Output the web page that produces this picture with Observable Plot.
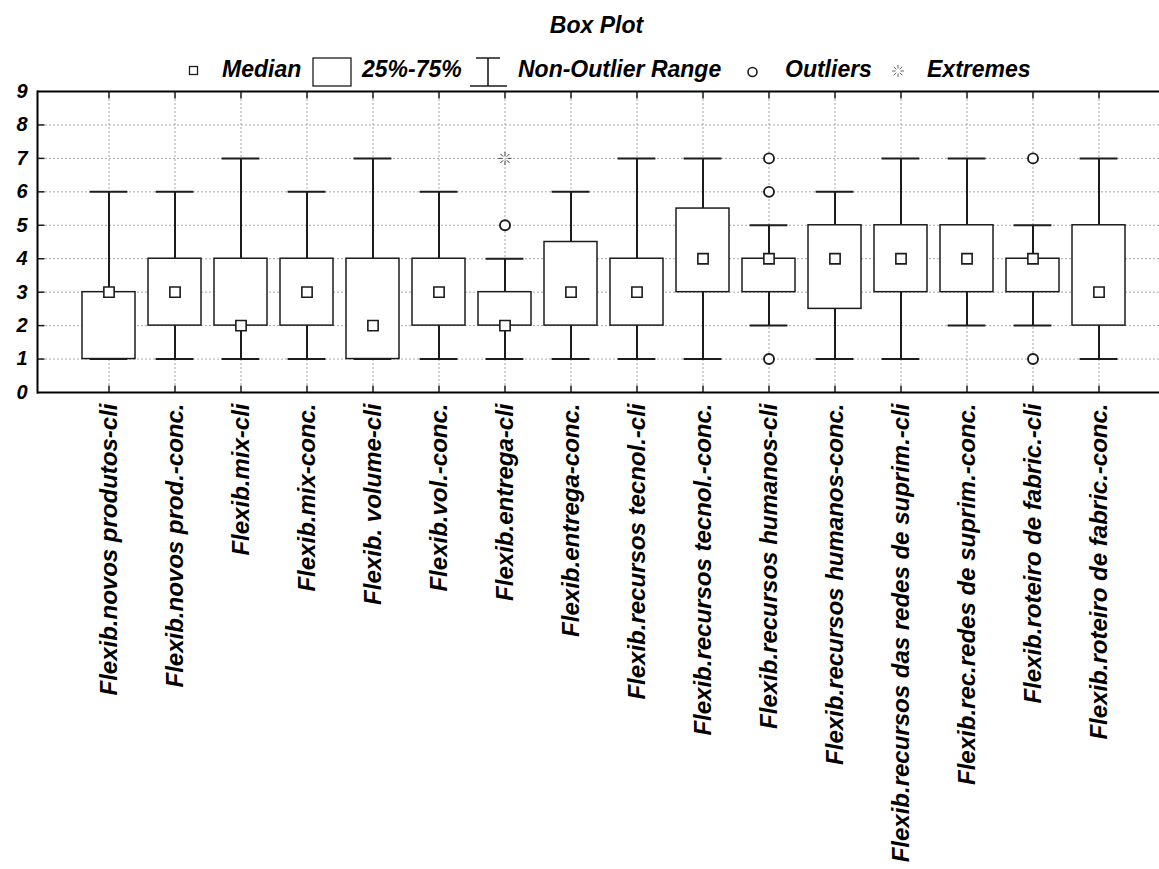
<!DOCTYPE html>
<html>
<head>
<meta charset="utf-8">
<script src="https://cdn.jsdelivr.net/npm/d3@7"></script>
<script src="https://cdn.jsdelivr.net/npm/@observablehq/plot@0.6"></script>
<style>
  html, body { margin: 0; padding: 0; background: #fff; overflow: hidden; }
  #chart { width: 1159px; }
  #chart svg { display: block; }
</style>
</head>
<body>
<div id="chart"></div>
<script>
// Variables shown on the x axis
const categories = [
  "Flexib.novos produtos-cli",
  "Flexib.novos prod.-conc.",
  "Flexib.mix-cli",
  "Flexib.mix-conc.",
  "Flexib. volume-cli",
  "Flexib.vol.-conc.",
  "Flexib.entrega-cli",
  "Flexib.entrega-conc.",
  "Flexib.recursos tecnol.-cli",
  "Flexib.recursos tecnol.-conc.",
  "Flexib.recursos humanos-cli",
  "Flexib.recursos humanos-conc.",
  "Flexib.recursos das redes de suprim.-cli",
  "Flexib.rec.redes de suprim.-conc.",
  "Flexib.roteiro de fabric.-cli",
  "Flexib.roteiro de fabric.-conc."
];

// Box statistics per variable
const whiskerLow  = [1, 1, 1, 1, 1, 1, 1, 1,   1, 1,   2, 1,   1, 2, 2, 1];
const quartile1   = [1, 2, 2, 2, 1, 2, 2, 2,   2, 3,   3, 2.5, 3, 3, 3, 2];
const medians     = [3, 3, 2, 3, 2, 3, 2, 3,   3, 4,   4, 4,   4, 4, 4, 3];
const quartile3   = [3, 4, 4, 4, 4, 4, 3, 4.5, 4, 5.5, 4, 5,   5, 5, 4, 5];
const whiskerHigh = [6, 6, 7, 6, 7, 6, 4, 6,   7, 7,   5, 6,   7, 7, 5, 7];

// Outliers and extremes (index into categories, value)
const outlierIndex  = [6, 10, 10, 10, 14, 14];
const outlierValues = [5, 7, 6, 1, 7, 1];
const extremeIndex  = [6];
const extremeValues = [7];

// Axis ticks
const yTickValues = [0, 1, 2, 3, 4, 5, 6, 7, 8, 9];
const yGridValues = [1, 2, 3, 4, 5, 6, 7, 8];

// Title and legend text
const titleText = "Box Plot";
const legendLabels = ["Median", "25%-75%", "Non-Outlier Range", "Outliers", "Extremes"];

const FONT = '"Liberation Sans", Arial, Helvetica, sans-serif';
const INK = "#1c1c1c";
const HEADER_H = 88;

const rows = categories.map((c, i) => ({
  cat: c, lo: whiskerLow[i], q1: quartile1[i], med: medians[i], q3: quartile3[i], hi: whiskerHigh[i]
}));
const outliers = outlierIndex.map((k, i) => ({cat: categories[k], v: outlierValues[i]}));
const extremes = extremeIndex.map((k, i) => ({cat: categories[k], v: extremeValues[i]}));

// Small custom symbols: inward tick marks and the starburst used for extremes
const tickRight = {draw(ctx) { ctx.moveTo(0, 0); ctx.lineTo(7, 0); }};
const tickUp    = {draw(ctx) { ctx.moveTo(0, 0); ctx.lineTo(0, -7); }};
const tickDown  = {draw(ctx) { ctx.moveTo(0, 0); ctx.lineTo(0, 7); }};
const starburst = {draw(ctx) {
  for (let k = 0; k < 8; ++k) {
    const a = k * Math.PI / 4;
    ctx.moveTo(Math.cos(a) * 2.6, Math.sin(a) * 2.6);
    ctx.lineTo(Math.cos(a) * 6.4, Math.sin(a) * 6.4);
  }
}};

// ---- Header: title and legend ----
const header = d3.create("svg")
  .attr("width", 1159)
  .attr("height", HEADER_H)
  .style("font-family", FONT)
  .style("font-weight", "bold")
  .style("font-style", "italic");

header.append("text")
  .attr("x", 596.5).attr("y", 33)
  .attr("text-anchor", "middle")
  .attr("font-size", 23)
  .text(titleText);

const lg = header.append("g").attr("fill", "none").attr("stroke", INK);
// median square
lg.append("rect").attr("x", 189.5).attr("y", 66.5).attr("width", 8).attr("height", 8).attr("stroke-width", 1.3).attr("fill", "white");
// 25%-75% box
lg.append("rect").attr("x", 313).attr("y", 58).attr("width", 38).attr("height", 28).attr("stroke-width", 1.3).attr("fill", "white");
// whisker icon
lg.append("path").attr("d", "M476,58H500M488,58V86M470,86H507").attr("stroke-width", 1.6);
// outlier circle
lg.append("circle").attr("cx", 752.5).attr("cy", 72).attr("r", 4.5).attr("stroke-width", 1.6);
// extreme starburst
lg.append("path").attr("d", d3.range(8).map(k => {
  const a = k * Math.PI / 4, cx = 898, cy = 71;
  return `M${cx + Math.cos(a) * 2.4},${cy + Math.sin(a) * 2.4}L${cx + Math.cos(a) * 6},${cy + Math.sin(a) * 6}`;
}).join("")).attr("stroke-width", 0.9).attr("stroke", "#555");

const legendX = [222, 362, 518, 785, 927];
header.append("g")
  .attr("font-size", 23)
  .selectAll("text")
  .data(legendLabels)
  .join("text")
  .attr("x", (d, i) => legendX[i])
  .attr("y", 77)
  .text(d => d);

document.getElementById("chart").append(header.node());

// ---- Box plot ----
const chart = Plot.plot({
  width: 1159,
  height: 869 - HEADER_H,
  marginTop: 91 - HEADER_H,
  marginBottom: 869 - 392,
  marginLeft: 37,
  marginRight: 0,
  style: {fontFamily: FONT, fontWeight: "bold", fontStyle: "italic", color: "#000", background: "white", overflow: "visible"},
  x: {type: "band", domain: categories, range: [37, 1169], paddingInner: 0.204, paddingOuter: 0.602, axis: null},
  y: {domain: [0, 9], axis: null},
  marks: [
    Plot.gridY(yGridValues, {stroke: "#a8a8a8", strokeOpacity: 1, strokeDasharray: "2,2"}),
    Plot.gridX(categories, {stroke: "#a8a8a8", strokeOpacity: 1, strokeDasharray: "2,2"}),
    // whiskers and caps
    Plot.ruleX(rows, {x: "cat", y1: "lo", y2: "hi", stroke: INK, strokeWidth: 2}),
    Plot.tickY(rows, {x: "cat", y: "lo", insetLeft: 7.6, insetRight: 7.6, stroke: INK, strokeWidth: 2}),
    Plot.tickY(rows, {x: "cat", y: "hi", insetLeft: 7.6, insetRight: 7.6, stroke: INK, strokeWidth: 2}),
    // interquartile boxes
    Plot.barY(rows, {x: "cat", y1: "q1", y2: "q3", fill: "white", stroke: INK, strokeWidth: 1.5}),
    // medians
    Plot.dot(rows, {x: "cat", y: "med", symbol: "square", r: 5.8, fill: "white", stroke: INK, strokeWidth: 1.6}),
    // outliers and extremes
    Plot.dot(outliers, {x: "cat", y: "v", r: 5, fill: "white", stroke: INK, strokeWidth: 1.9}),
    Plot.dot(extremes, {x: "cat", y: "v", symbol: starburst, r: 5, fill: "none", stroke: "#444", strokeWidth: 1}),
    // frame
    Plot.frame({anchor: "left", stroke: "#000", strokeWidth: 2}),
    Plot.ruleY([0, 9], {stroke: "#000", strokeWidth: 2}),
    // inward tick marks
    Plot.dot(yGridValues, {y: d => d, frameAnchor: "left", symbol: tickRight, fill: "none", stroke: INK, strokeWidth: 1.5}),
    Plot.dot(categories, {x: d => d, frameAnchor: "bottom", symbol: tickUp, fill: "none", stroke: INK, strokeWidth: 1.5}),
    Plot.dot(categories, {x: d => d, frameAnchor: "top", symbol: tickDown, fill: "none", stroke: INK, strokeWidth: 1.5}),
    // y tick labels
    Plot.text(yTickValues, {
      y: d => d, text: d => String(d), frameAnchor: "left", textAnchor: "end",
      dx: -10, fontSize: 20, fill: "#000"
    }),
    // x tick labels
    Plot.text(categories, {
      x: d => d, text: d => d, frameAnchor: "bottom", rotate: -90,
      textAnchor: "end", lineAnchor: "middle", dy: 11, fontSize: 24, fill: "#000"
    })
  ]
});

document.getElementById("chart").append(chart);
</script>
</body>
</html>
